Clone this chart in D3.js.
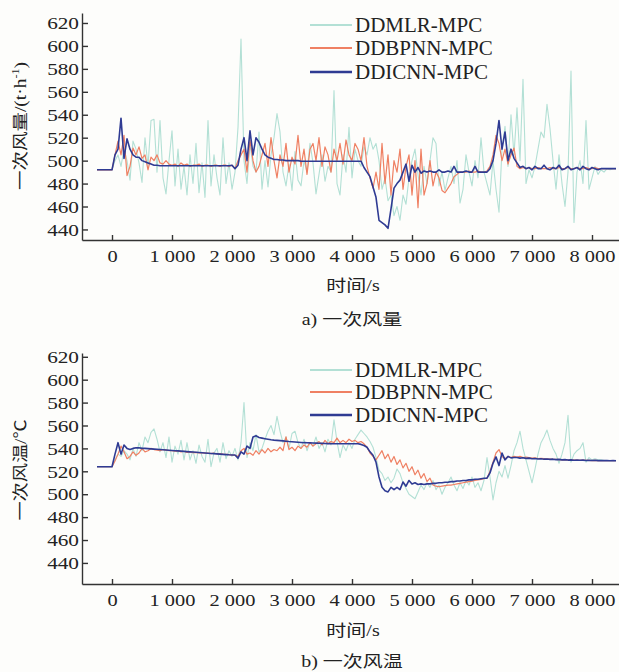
<!DOCTYPE html>
<html>
<head>
<meta charset="utf-8">
<script src="https://cdn.jsdelivr.net/npm/d3@7"></script>
<style>
  body { margin: 0; background: #fdfdfb; }
  svg { display: block; }
  text { font-family: "Liberation Serif", "Times New Roman", "Noto Sans CJK SC", serif; fill: #222; }
</style>
</head>
<body>
<svg id="chart" width="619" height="672"></svg>
<script>
const seriesNames = ['DDMLR-MPC', 'DDBPNN-MPC', 'DDICNN-MPC'];
const seriesColors = ['#b3e0d5', '#ef8063', '#2f3b93'];
const seriesWidths = [1.1, 1.2, 1.6];

// samples every 50 s starting at -250 s
const t0 = -250, dt = 50;

const xTicks = [0, 1000, 2000, 3000, 4000, 5000, 6000, 7000, 8000];
const xTickLabels = ['0', '1 000', '2 000', '3 000', '4 000', '5 000', '6 000', '7 000', '8 000'];
const yTicks = [440, 460, 480, 500, 520, 540, 560, 580, 600, 620];

// a) primary air flow, t/h
const flowMLR = [
  492,492,492,492,492,492,500,505,495,510,
  500,483,517,510,498,481,520,495,535,536,
  490,535,485,471,500,526,478,510,475,495,
  470,505,480,515,472,498,468,535,478,505,
  485,470,520,480,498,475,490,529,606,500,
  480,515,495,490,525,475,500,477,505,520,
  541,525,490,478,497,474,508,483,478,500,
  490,515,498,471,488,505,482,495,490,561,
  480,470,505,490,529,485,510,500,495,512,
  505,520,510,515,500,475,485,465,470,452,
  460,448,470,462,485,500,510,488,470,495,
  480,500,520,515,478,490,474,485,495,480,
  500,463,475,505,490,478,500,485,520,490,
  480,470,500,475,455,510,530,495,540,505,
  546,500,571,480,492,485,495,510,525,520,
  549,528,500,475,505,480,460,490,578,446,
  490,500,480,535,475,485,495,488,492,490,
  493,492,493,493
];
const flowBPNN = [
  492,492,492,492,492,492,505,517,505,522,
  487,495,511,505,512,502,505,492,503,500,
  505,498,497,500,497,496,497,495,498,496,
  497,495,496,496,497,495,496,496,495,496,
  496,495,496,496,495,496,493,500,505,510,
  490,518,500,490,495,505,515,495,520,500,
  485,505,495,515,490,503,497,522,495,510,
  488,510,515,500,520,495,512,505,490,510,
  500,515,497,518,505,500,515,510,500,520,
  495,485,476,490,475,515,480,505,470,500,
  490,510,475,495,505,470,500,459,510,470,
  480,500,478,490,485,474,472,476,480,486,
  488,490,490,490,491,490,490,491,490,490,
  491,495,505,522,515,500,510,497,505,511,
  495,493,494,493,494,493,493,494,493,493,
  493,494,493,493,494,493,493,494,493,493,
  494,493,493,494,493,493,494,493,493,493,
  493,493,493,493
];
const flowICNN = [
  492,492,492,492,492,492,505,510,537,502,
  519,510,505,503,503,500,499,498,497,496,
  496,495.5,495.5,495.5,495.5,495.5,495.5,495.5,495.5,495.5,
  495.5,495.5,495.5,495.5,495.5,495.5,495.5,495.5,495.5,495.5,
  495.5,495.5,495.5,495.5,495.5,496,493,496,510,520,
  500,526,505,520,516,510,505,503,502,501,
  501,500.5,500.5,500,500,500,500,500,499.5,499.5,
  499.5,499.5,499.5,499.5,499.5,499.5,499.5,499.5,499.5,499.5,
  499.5,499.5,499.5,499.5,499.5,499.5,499.5,499.5,499.5,494,
  490,486,477,468,448,446,444,441,458,476,
  480,483,490,497,482,496,490,494,489,491,
  490,491,490,490,492,490,490,491,490,495,
  490,490,490,491,490,490,495,490,490,490,
  490,493,500,515,535,510,525,500,510,502,
  498,494,495,493,494,492,495,493,493,496,
  493,492,494,493,496,492,493,495,492,493,
  494,492,495,493,492,494,493,492,493,493,
  493,493,493,493
];

// b) primary air temperature, deg C
const tempMLR = [
  524,524,524,524,524,524,530,535,533,538,
  535,530,540,533,545,538,550,545,554,557,
  548,537,545,532,550,528,542,535,547,530,
  545,530,538,527,543,533,528,548,524,536,
  540,528,545,531,538,533,540,530,545,580,
  532,545,538,552,537,540,548,555,560,552,
  568,555,545,550,540,553,555,545,540,548,
  538,545,542,550,540,545,537,548,543,565,
  546,532,543,538,545,540,548,552,556,553,
  550,546,541,532,521,518,512,515,510,514,
  522,518,510,505,500,498,496,502,508,504,
  510,506,512,504,508,500,506,510,515,508,
  503,510,505,512,508,515,506,510,503,512,
  532,515,495,510,520,515,525,514,525,538,
  545,555,540,530,520,510,522,535,545,550,
  556,547,540,535,527,535,545,569,528,535,
  538,540,545,528,532,530,531,530,530,529.5,
  529.5,529.3,529.2,529.2
];
const tempBPNN = [
  524,524,524,524,524,524,529,535,542,537,
  531,533,537,534,536,540,537,538,540,539,
  538.5,538,539,538.5,538,538,537.5,537.8,537,537.5,
  536.5,537,536.3,536.6,536,536.3,535.8,536,535.5,535.8,
  535.2,535.5,535,534.8,534.5,534.2,534,533,538,540,
  535,536,534,538,535,539,536,540,537,539,
  538,541,538,550,539,541,538,542,540,543,
  541,545,542,544,546,543,547,544,546,545,
  549,545,547,545,548,546,547,545,546,544,
  541,536,533,530,534,538,531,535,528,533,
  526,530,523,527,520,524,517,521,514,518,
  511,514,508,507,506.5,507,507.5,508,508,508.5,
  509,509.5,510,510.5,511,511.5,512,512.5,513,513.5,
  514,520,528,536,539,533,531,533,532,533,
  532.5,533,532,532.5,532,531.5,531.8,531.2,531.4,531,
  530.8,530.6,530.4,530.5,530.2,530,530.1,529.8,529.9,529.7,
  529.8,529.6,529.7,529.5,529.6,529.4,529.5,529.3,529.4,529.3,
  529.3,529.2,529.2,529.2
];
const tempICNN = [
  524,524,524,524,524,524,535,545,535,543,
  540,539,540,540.5,540.5,540,540,539.8,539.6,539.4,
  539.2,539,538.8,538.6,538.4,538.2,538,537.8,537.6,537.4,
  537.2,537,536.8,536.6,536.4,536.2,536,535.8,535.6,535.4,
  535.2,535,534.8,534.6,534.4,534.3,534.2,531.5,537,535,
  542,540,550,551,549.5,549,548.5,548,547.5,547.2,
  547,546.8,546.6,546.3,546,545.8,545.6,545.4,545.2,545,
  544.9,544.8,544.7,544.6,544.5,544.4,544.3,544.2,544.1,544,
  544,544,544,544,544,544,544,544,543.5,542.5,
  541,537,534,528,515,506,503,502,506,504,
  506,504,510.7,507,512,509,510,508.5,509,508.5,
  509,509,509.5,509.5,510,510,510.5,510.5,511,511,
  511.5,511.5,512,512,512.5,512.5,513,513,513.5,514,
  514,518.6,527,532.6,525,536,530,533,531.7,532,
  532,531.5,531.8,531.3,531.5,531,531.2,530.8,531,530.6,
  530.8,530.4,530.6,530.2,530.4,530,530.2,529.8,530,529.7,
  529.9,529.6,529.8,529.5,529.7,529.4,529.6,529.3,529.5,529.3,
  529.4,529.2,529.3,529.2
];

const panels = [
  { series: [flowMLR, flowBPNN, flowICNN], yDomain: [430.8, 628.7], yRange: [240, 13],
    yLabel: 'flow', yLabelY: 126, legendY: [25, 48, 72],
    xTitleY: 286, captionY: 320, caption: 'a) 一次风量' },
  { series: [tempMLR, tempBPNN, tempICNN], yDomain: [421.6, 623.3], yRange: [584, 353],
    yLabel: 'temp', yLabelY: 470, legendY: [370, 392, 415],
    xTitleY: 631, captionY: 662, caption: 'b) 一次风温' }
];

const svg = d3.select('#chart');
svg.append('rect').attr('width', 619).attr('height', 672).attr('fill', '#fdfdfb');

const x = d3.scaleLinear().domain([-500, 8450]).range([82, 619]);

// text drawn a bit wider than tall, like the scanned figure
function stretchedText(g, px, py, str, size, sx, anchor, rotate) {
  return g.append('text')
    .attr('transform', `translate(${px},${py})` + (rotate ? ` rotate(${rotate})` : '') + ` scale(${sx},1)`)
    .attr('text-anchor', anchor)
    .attr('dominant-baseline', 'central')
    .attr('font-size', size)
    .text(str);
}

panels.forEach(p => {
  const g = svg.append('g');
  const y = d3.scaleLinear().domain(p.yDomain).range(p.yRange);

  const line = d3.line()
    .x((d, i) => x(t0 + i * dt))
    .y(d => y(d));

  p.series.forEach((vals, k) => {
    g.append('path')
      .datum(vals)
      .attr('d', line)
      .attr('fill', 'none')
      .attr('stroke', seriesColors[k])
      .attr('stroke-width', seriesWidths[k])
      .attr('stroke-linejoin', 'round');
  });

  const yAxis = g.append('g')
    .attr('transform', `translate(${x.range()[0]},0)`)
    .call(d3.axisLeft(y).tickValues(yTicks).tickSizeInner(-6).tickSizeOuter(0).tickFormat(d3.format('d')));
  yAxis.selectAll('.tick text')
    .attr('x', null).attr('dy', null)
    .attr('dominant-baseline', 'central')
    .attr('font-size', 17)
    .attr('transform', 'translate(-3,0) scale(1.25,1)');

  const xAxis = g.append('g')
    .attr('transform', `translate(0,${p.yRange[0]})`)
    .call(d3.axisBottom(x).tickValues(xTicks).tickSizeInner(-5).tickSizeOuter(0)
      .tickFormat((d, i) => xTickLabels[i]));
  xAxis.selectAll('.tick text')
    .attr('y', null).attr('dy', null)
    .attr('dominant-baseline', 'central')
    .attr('font-size', 17)
    .attr('transform', 'translate(0,16) scale(1.2,1)');

  [yAxis, xAxis].forEach(a => {
    a.selectAll('path, line').attr('stroke', '#333').attr('stroke-width', 1.4);
    a.selectAll('text').attr('fill', '#222').attr('font-family', '"Liberation Serif", serif');
  });

  // legend
  seriesNames.forEach((name, k) => {
    const ly = p.legendY[k];
    g.append('line')
      .attr('x1', 310).attr('x2', 352).attr('y1', ly).attr('y2', ly)
      .attr('stroke', seriesColors[k]).attr('stroke-width', k === 2 ? 2.4 : 2);
    stretchedText(g, 355, ly, name, 20, 1.05, 'start');
  });

  // axis titles
  if (p.yLabel === 'flow') {
    const t = stretchedText(g, 21, p.yLabelY, '一次风量/(t·h', 16, 1.22, 'middle', -90);
    t.append('tspan').attr('dy', -6).attr('font-size', 10).text('-1');
    t.append('tspan').attr('dy', 6).text(')');
  } else {
    stretchedText(g, 21, p.yLabelY, '一次风温/℃', 16, 1.2, 'middle', -90);
  }
  stretchedText(g, 353, p.xTitleY, '时间/s', 16, 1.25, 'middle');
  stretchedText(g, 352, p.captionY, p.caption, 16, 1.25, 'middle');
});
</script>
</body>
</html>
